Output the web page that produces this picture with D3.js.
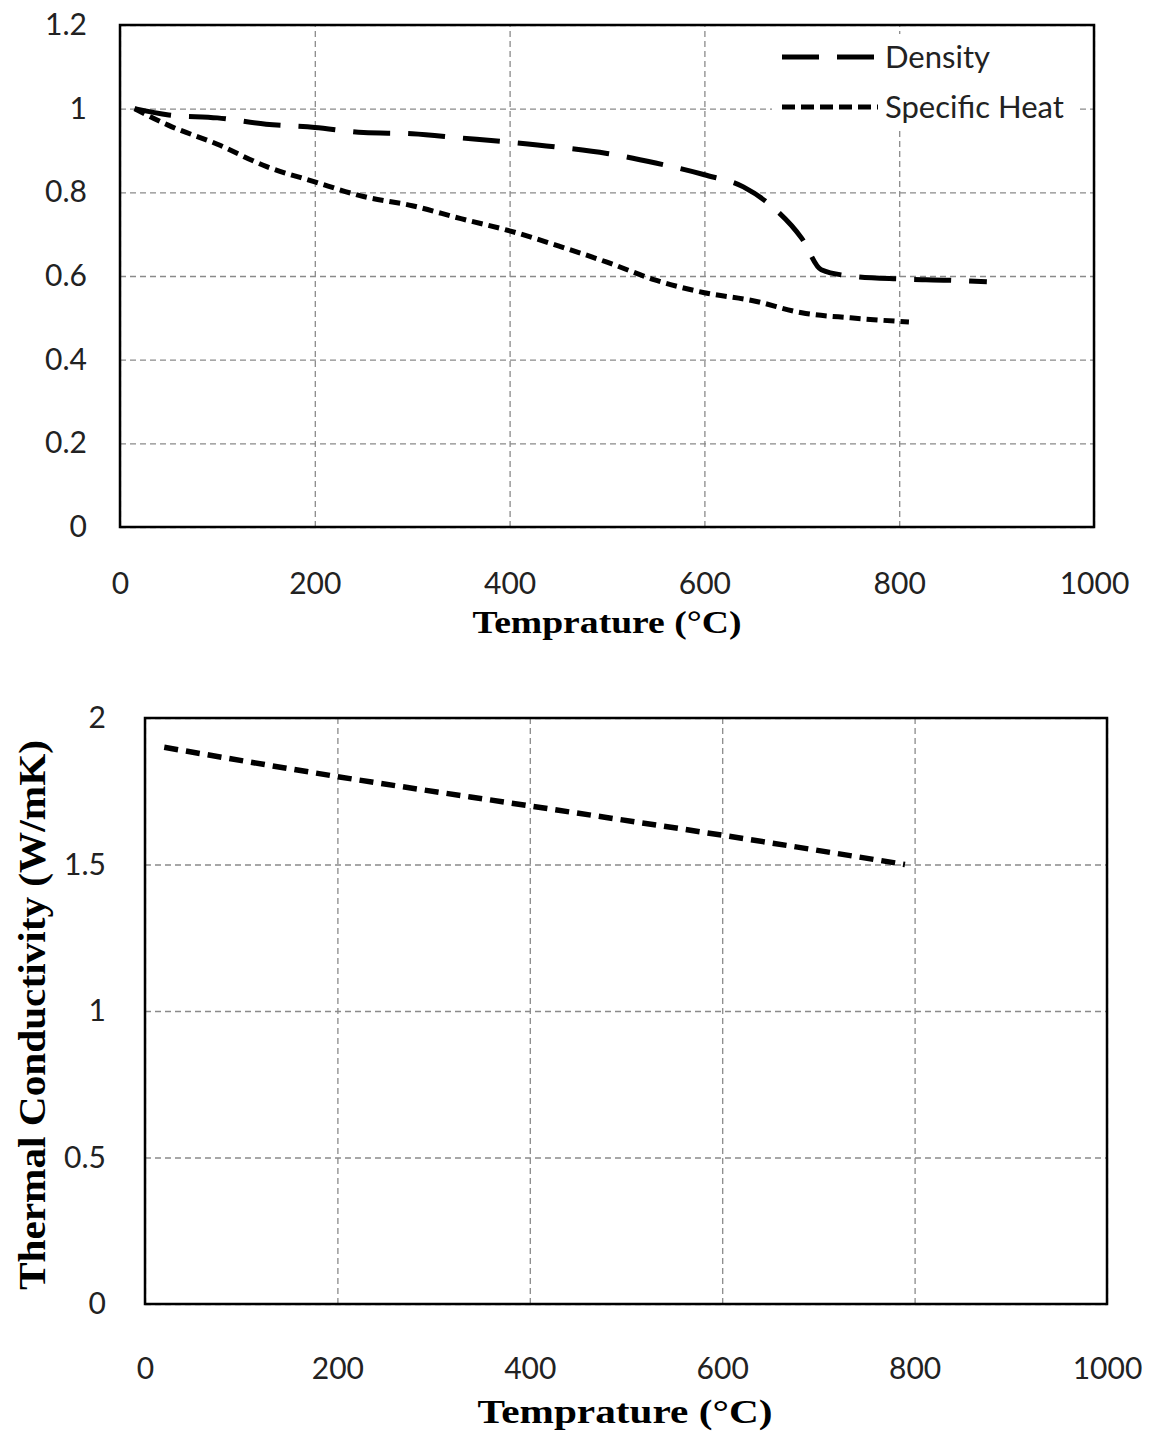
<!DOCTYPE html>
<html><head><meta charset="utf-8">
<script src="https://cdn.jsdelivr.net/npm/d3@7"></script>
<style>html,body{margin:0;padding:0;background:#fff;}</style>
</head><body>
<script>
// ---- data ----
const xTicks = [0, 200, 400, 600, 800, 1000];
const yTicksTop = [0, 0.2, 0.4, 0.6, 0.8, 1, 1.2];
const yTicksBottom = [0, 0.5, 1, 1.5, 2];

const densityT = [15, 50, 100, 150, 200, 250, 300, 350, 400, 450, 500, 550, 600, 640, 670, 700, 720, 750, 800, 850, 890];
const densityV = [1.0, 0.985, 0.978, 0.963, 0.955, 0.943, 0.94, 0.93, 0.92, 0.908, 0.893, 0.87, 0.842, 0.813, 0.765, 0.69, 0.615, 0.60, 0.593, 0.59, 0.586];

const heatT = [15, 50, 100, 150, 200, 250, 300, 350, 400, 450, 500, 550, 600, 650, 700, 750, 810];
const heatV = [1.0, 0.96, 0.915, 0.862, 0.825, 0.79, 0.768, 0.737, 0.708, 0.672, 0.633, 0.59, 0.56, 0.541, 0.512, 0.50, 0.49];

const condT = [20, 200, 400, 600, 790];
const condV = [1.9, 1.8, 1.7, 1.6, 1.5];

const seriesNames = ["Density", "Specific Heat"];
const xTitle = "Temprature (°C)";
const yTitleBottom = "Thermal Conductivity (W/mK)";

// ---- drawing ----
const W = 1173, H = 1433;
const svg = d3.select("body").append("svg").attr("width", W).attr("height", H)
  .style("font-family", "Lato, 'Open Sans', sans-serif");

const tickFont = 30, serif = "'Liberation Serif', 'DejaVu Serif', serif";
const fmt = d => String(d);

function panel(cfg) {
  const x = d3.scaleLinear().domain([0, 1000]).range([cfg.left, cfg.right]);
  const y = d3.scaleLinear().domain(cfg.yDomain).range([cfg.bottom, cfg.top]);
  const g = svg.append("g");

  g.append("g").attr("transform", `translate(0,${cfg.bottom})`)
    .call(d3.axisBottom(x).tickValues(xTicks).tickSize(-(cfg.bottom - cfg.top)).tickFormat(""))
    .call(s => s.select(".domain").remove())
    .call(s => s.selectAll("line").attr("stroke", "#8a8a8a").attr("stroke-width", 1.3).attr("stroke-dasharray", "6,4"));
  g.append("g").attr("transform", `translate(${cfg.left},0)`)
    .call(d3.axisLeft(y).tickValues(cfg.yTicks).tickSize(-(cfg.right - cfg.left)).tickFormat(""))
    .call(s => s.select(".domain").remove())
    .call(s => s.selectAll("line").attr("stroke", "#8a8a8a").attr("stroke-width", 1.3).attr("stroke-dasharray", "6,4"));

  g.append("g").attr("transform", `translate(0,${cfg.xLabelY})`)
    .call(d3.axisBottom(x).tickValues(xTicks).tickSize(0).tickPadding(0).tickFormat(fmt))
    .call(s => s.select(".domain").remove())
    .call(s => s.selectAll("text").attr("font-size", tickFont).attr("font-family", "Lato, sans-serif").attr("fill", "#222").attr("dy", "0.35em").attr("y", 0));
  g.append("g").attr("transform", `translate(${cfg.yLabelX},0)`)
    .call(d3.axisLeft(y).tickValues(cfg.yTicks).tickSize(0).tickPadding(0).tickFormat(fmt))
    .call(s => s.select(".domain").remove())
    .call(s => s.selectAll("text").attr("font-size", tickFont).attr("font-family", "Lato, sans-serif").attr("fill", "#222").attr("x", 0));

  g.append("rect").attr("x", cfg.left).attr("y", cfg.top)
    .attr("width", cfg.right - cfg.left).attr("height", cfg.bottom - cfg.top)
    .attr("fill", "none").attr("stroke", "#000").attr("stroke-width", 2.5);

  g.append("text").attr("x", cfg.xTitleX).attr("y", cfg.xTitleY)
    .attr("text-anchor", "middle").attr("font-family", serif).attr("font-weight", "bold")
    .attr("font-size", cfg.xTitleSize).attr("fill", "#000")
    .attr("textLength", cfg.xTitleLen).attr("lengthAdjust", "spacingAndGlyphs").text(xTitle);

  return {x, y, g};
}

function drawLine(p, T, V, dash, width) {
  const pts = T.map((t, i) => [t, V[i]]);
  p.g.append("path").datum(pts)
    .attr("fill", "none").attr("stroke", "#000").attr("stroke-width", width)
    .attr("stroke-dasharray", dash).attr("stroke-linecap", "butt")
    .attr("d", d3.line().x(d => p.x(d[0])).y(d => p.y(d[1])).curve(d3.curveMonotoneX));
}

const topPanel = panel({left: 120, right: 1094, top: 25, bottom: 527, yDomain: [0, 1.2], yTicks: yTicksTop,
  xLabelY: 583, yLabelX: 87, xTitleX: 607, xTitleY: 633, xTitleSize: 32, xTitleLen: 269});
drawLine(topPanel, densityT, densityV, "37,18", 5);
drawLine(topPanel, heatT, heatV, "11,6", 5);

const legend = topPanel.g.append("g");
legend.append("rect").attr("x", 772).attr("y", 34).attr("width", 306).attr("height", 94).attr("fill", "#fff");
const legDash = ["37,18", "13,6"];
[57, 107].forEach((yy, i) => {
  legend.append("line").attr("x1", 782).attr("x2", 878).attr("y1", yy).attr("y2", yy)
    .attr("stroke", "#000").attr("stroke-width", 5).attr("stroke-dasharray", legDash[i]);
  legend.append("text").attr("x", 885).attr("y", yy).attr("dy", "0.35em")
    .attr("font-size", 31).attr("fill", "#222").text(seriesNames[i]);
});

const botPanel = panel({left: 145, right: 1107, top: 718, bottom: 1304, yDomain: [0, 2], yTicks: yTicksBottom,
  xLabelY: 1368, yLabelX: 106, xTitleX: 625, xTitleY: 1423, xTitleSize: 33, xTitleLen: 295});
drawLine(botPanel, condT, condV, "14,8", 5.5);

svg.append("text").attr("transform", "translate(45,1015) rotate(-90)")
  .attr("text-anchor", "middle").attr("font-family", serif).attr("font-weight", "bold")
  .attr("font-size", 37).attr("fill", "#000")
  .attr("textLength", 550).attr("lengthAdjust", "spacingAndGlyphs").text(yTitleBottom);
</script>
</body></html>
